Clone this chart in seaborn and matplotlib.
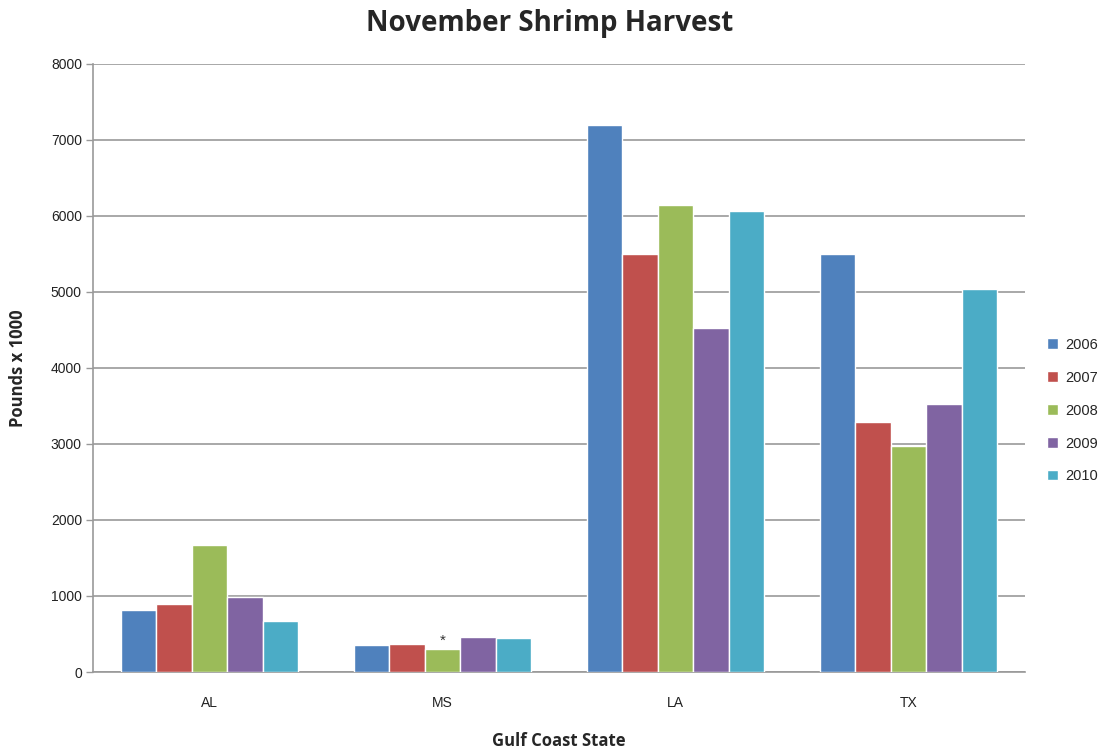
import matplotlib
matplotlib.use("Agg")
import matplotlib.pyplot as plt
import seaborn as sns
import pandas as pd

states = ["AL", "MS", "LA", "TX"]
years = ["2006", "2007", "2008", "2009", "2010"]
harvest_2006 = [810, 350, 7200, 5500]
harvest_2007 = [900, 375, 5500, 3290]
harvest_2008 = [1670, 300, 6150, 2970]
harvest_2009 = [990, 465, 4520, 3530]
harvest_2010 = [670, 445, 6060, 5040]
year_colors = ["#4F81BD", "#C0504D", "#9BBB59", "#8064A2", "#4BACC6"]
y_ticks = [0, 1000, 2000, 3000, 4000, 5000, 6000, 7000, 8000]

series = [harvest_2006, harvest_2007, harvest_2008, harvest_2009, harvest_2010]
rows = []
for yr, vals in zip(years, series):
    for st, v in zip(states, vals):
        rows.append({"State": st, "Year": yr, "Pounds": v})
df = pd.DataFrame(rows)

sns.set_style("white")
plt.rcParams["font.family"] = ["Liberation Sans", "DejaVu Sans"]

fig = plt.figure(figsize=(11.11, 7.49), dpi=100)
ax = fig.add_axes([0.0837, 0.1028, 0.8389, 0.8118])

sns.barplot(data=df, x="State", y="Pounds", hue="Year", order=states,
            hue_order=years, palette=year_colors, width=0.76,
            edgecolor="white", linewidth=1.0, saturation=1, ax=ax,
            errorbar=None, zorder=3)

ax.set_ylim(0, 8000)
ax.set_xlim(-0.5, 3.5)
ax.set_yticks(y_ticks)
ax.set_yticklabels([str(t) for t in y_ticks], fontsize=10, color="#222222")
ax.tick_params(axis="y", length=5, width=1, color="#999999", pad=3, direction="out", left=True)
ax.tick_params(axis="x", length=0, pad=17, labelsize=10, labelcolor="#222222")
ax.yaxis.grid(True, color="#999999", linewidth=1.2, zorder=0)
ax.set_axisbelow(True)
for side in ["top", "right"]:
    ax.spines[side].set_visible(False)
for side in ["left", "bottom"]:
    ax.spines[side].set_color("#999999")
    ax.spines[side].set_linewidth(1.2)

# Asterisk marking the MS 2008 figure
ms_idx = states.index("MS")
ms_2008 = harvest_2008[ms_idx]
bar_offset = (years.index("2008") - 2) * 0.76 / 5
ax.text(ms_idx + bar_offset, ms_2008 + 110, "*", ha="center", va="center",
        fontsize=11, color="#333333")

ax.set_xlabel("Gulf Coast State", fontsize=12, fontweight="bold",
              family=["Open Sans", "DejaVu Sans"], labelpad=16)
ax.set_ylabel("Pounds x 1000", fontsize=12, fontweight="bold",
              family=["Open Sans", "DejaVu Sans"], labelpad=17)
fig.text(0.495, 0.968, "November Shrimp Harvest", ha="center", va="center",
         fontsize=20, fontweight="bold", family=["Open Sans", "DejaVu Sans"])

leg = ax.legend(title=None, loc="center left", bbox_to_anchor=(1.01, 0.43),
                frameon=False, fontsize=10.5, handlelength=0.7, handleheight=0.7,
                handletextpad=0.5, labelspacing=1.3)

fig.savefig("out.png", dpi=100)
